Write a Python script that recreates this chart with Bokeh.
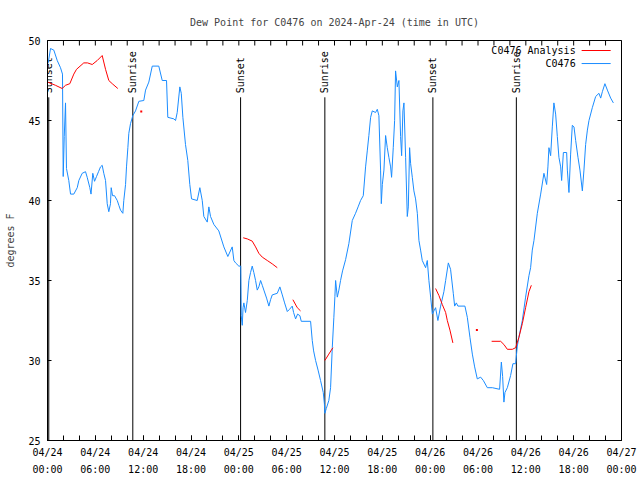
import numpy as np
from bokeh.plotting import figure
from bokeh.models import FixedTicker, Range1d
from bokeh.core.properties import value
from bokeh.embed import file_html
from bokeh.resources import INLINE

FONT = "DejaVu Sans Mono"
BLUE = "#1a8cff"
RED = "#ff0000"

# ---- data (hours since 2024-04-24 00:00 UTC) ----
blue_t = [0.09, 0.38, 0.79, 1.22, 1.63, 1.88, 1.97, 2.10, 2.26, 2.38, 2.67, 2.89, 3.30, 3.73, 3.93,
          4.35, 4.77, 4.98, 5.31, 5.46, 5.68, 5.90, 6.15, 6.40, 6.65, 6.86, 7.06, 7.28, 7.49, 7.69,
          7.90, 7.99, 8.16, 8.41, 8.75, 8.95, 9.16, 9.45, 9.57, 9.79, 9.91, 10.08, 10.20, 10.41, 10.70,
          11.04, 11.46, 12.08, 12.30, 12.71, 13.14, 13.96, 14.39, 14.93, 15.09, 15.85, 16.06, 16.27,
          16.60, 16.78, 16.98, 17.31, 17.60, 17.85, 18.07, 18.78, 19.11, 19.41, 19.61, 20.04, 20.24,
          20.45, 20.87, 21.49, 22.12, 22.62, 23.17, 23.38, 23.59, 24.00, 24.24, 24.30, 24.43, 24.53,
          24.63, 24.84, 25.06, 25.26, 25.47, 25.68, 25.88, 26.10, 26.31, 26.51, 26.73, 26.94, 27.14,
          27.48, 27.77, 27.98, 28.19, 28.82, 29.15, 29.45, 29.74, 30.08, 30.36, 30.70, 30.87, 31.12,
          31.37, 31.66, 31.83, 33.00, 33.21, 33.38, 33.63, 33.94, 34.25, 34.59, 34.73, 34.79, 34.97,
          35.29, 35.51, 35.72, 35.92, 36.05, 36.14, 36.35, 36.55, 36.76, 37.01, 37.39, 37.80, 38.23,
          38.64, 38.96, 39.27, 39.61, 39.90, 40.11, 40.31, 40.53, 40.74, 41.15, 41.37, 41.57, 41.78,
          41.87, 42.00, 42.20, 42.41, 42.62, 42.82, 43.04, 43.16, 43.37, 43.54, 43.66, 43.88, 44.08,
          44.29, 44.42, 44.58, 44.71, 44.92, 45.13, 45.26, 45.42, 45.55, 45.76, 45.96, 46.17, 46.39,
          46.59, 46.80, 47.01, 47.43, 47.64, 47.84, 48.06, 48.27, 48.47, 48.68, 48.97, 49.31, 49.72,
          49.94, 50.28, 50.56, 50.90, 51.07, 51.28, 51.48, 52.36, 52.66, 52.99, 53.29, 53.58, 53.91,
          54.33, 54.67, 55.17, 55.80, 56.71, 56.93, 57.09, 57.25, 57.38, 57.68, 58.09, 58.38, 58.72,
          58.93, 59.13, 59.56, 59.97, 60.39, 60.60, 60.81, 61.02, 61.44, 61.86, 62.27, 62.61, 62.77,
          62.90, 63.11, 63.32, 63.52, 63.74, 63.95, 64.15, 64.37, 64.49, 64.71, 65.12, 65.21, 65.41,
          65.62, 65.83, 66.04, 66.25, 66.54, 66.79, 67.09, 67.29, 67.50, 67.72, 67.92, 68.34, 68.76,
          69.17, 69.39, 69.60, 69.92, 70.23, 70.64, 70.98]
blue_v = [48.6, 49.5, 49.4, 48.75, 48.3, 47.9, 41.5, 44.0, 46.1, 42.0, 41.25, 40.4, 40.4, 40.8, 41.25,
          41.7, 41.8, 41.45, 40.8, 40.4, 41.7, 41.2, 41.5, 41.8, 42.1, 42.2, 41.7, 41.25, 39.8, 39.3,
          39.8, 40.8, 40.3, 40.3, 40.0, 39.7, 39.4, 39.2, 40.0, 41.0, 42.1, 43.3, 44.2, 44.8, 45.3,
          45.6, 46.2, 46.25, 46.9, 47.4, 48.4, 48.4, 47.5, 47.5, 45.2, 45.1, 45.0, 45.5,
          47.1, 46.7, 45.2, 43.5, 42.5, 41.0, 40.1, 40.0, 40.8, 40.0, 39.0, 38.65, 39.6,
          39.0, 38.5, 38.1, 37.1, 36.5, 37.1, 36.25, 36.1, 35.9, 35.9, 32.8, 32.2, 33.3,
          33.6, 33.0, 33.75, 35.0, 35.5, 35.9, 35.5, 35.0, 34.4, 34.6, 35.0, 34.7, 34.4,
          33.9, 33.4, 33.8, 34.1, 34.2, 34.6, 34.1, 33.6, 33.06, 33.2, 33.4, 33.0, 32.6,
          32.9, 32.8, 32.45, 32.45, 31.25, 30.6, 30.0, 29.4, 28.75, 28.0, 27.3, 26.7, 27.0,
          27.5, 28.3, 30.8, 32.7, 34.0, 35.0, 33.96, 34.4, 35.0, 35.6, 36.3, 37.3, 38.75,
          39.2, 39.6, 40.0, 40.3, 42.1, 43.1, 44.06, 45.2, 45.6, 45.5, 45.7, 45.3, 41.9,
          39.8, 41.0, 41.9, 44.06, 43.3, 42.7, 42.1, 41.45, 43.3, 45.0, 48.1, 47.1, 47.5,
          44.0, 42.8, 45.6, 46.1, 42.7, 39.0, 39.6, 43.3, 42.3, 41.45, 40.6, 40.1, 39.2,
          37.5, 36.9, 36.25, 35.8, 36.25, 35.0, 33.96, 32.9, 33.1, 33.3, 32.5, 33.4, 34.3,
          35.0, 36.1, 35.7, 34.2, 33.4, 33.6, 33.4, 33.4, 32.7, 31.45, 30.4, 29.6, 28.85,
          28.96, 28.75, 28.3, 28.3, 28.2, 29.9, 29.0, 27.4, 28.0, 28.3, 29.06, 29.8, 29.8,
          30.9, 31.45, 32.5, 33.96, 35.3, 35.8, 36.9, 37.5, 39.2, 40.4, 41.7, 41.0, 42.1,
          43.3, 42.8, 44.6, 46.1, 45.4, 44.0, 42.7, 42.1, 41.25, 43.0, 43.0, 41.9, 40.5,
          42.9, 44.7, 44.6, 43.75, 42.7, 41.9, 40.6, 41.9, 43.5, 44.4, 45.0, 45.8, 46.5,
          46.7, 46.4, 46.8, 47.3, 46.9, 46.4, 46.1]

nan = float("nan")
red_t = [0.04, 1.00, 1.84, 2.26, 2.80, 3.30, 3.64, 4.55, 5.02, 5.61, 6.24, 6.86, 7.28, 7.69, 8.12, 8.82,
         nan, 11.76, nan,
         24.55, 25.06, 25.68, 26.10, 26.51, 26.94, 27.57, 28.19, 28.82, nan,
         30.78, 31.33, 31.74, nan,
         34.79, 35.29, 35.80, nan,
         48.68, 49.10, 49.52, 49.94, 50.15, 50.48, 50.85, nan,
         53.86, nan,
         55.71, 56.84, 57.25, 57.68, 58.31, 58.72, 59.13, 59.56, 59.97, 60.39, 60.69]
red_v = [47.4, 47.2, 47.0, 47.2, 47.3, 47.9, 48.2, 48.6, 48.6, 48.5, 48.75, 49.06, 48.2, 47.5, 47.3, 47.0,
         nan, 45.56, nan,
         37.67, 37.6, 37.46, 37.1, 36.7, 36.46, 36.25, 36.04, 35.8, nan,
         33.8, 33.3, 33.1, nan,
         30.0, 30.4, 30.8, nan,
         34.5, 34.06, 33.5, 33.0, 32.5, 31.9, 31.1, nan,
         31.9, nan,
         31.2, 31.2, 31.0, 30.7, 30.7, 30.8, 31.45, 32.3, 33.3, 34.3, 34.7]

sun_t = [0.16, 10.70, 24.22, 34.79, 48.34, 58.81]
sun_labels = ["Sunset", "Sunrise", "Sunset", "Sunrise", "Sunset", "Sunrise"]

x_ticks = list(range(0, 73, 6))
x_tick_labels = ["04/24\n00:00", "04/24\n06:00", "04/24\n12:00", "04/24\n18:00",
                 "04/25\n00:00", "04/25\n06:00", "04/25\n12:00", "04/25\n18:00",
                 "04/26\n00:00", "04/26\n06:00", "04/26\n12:00", "04/26\n18:00",
                 "04/27\n00:00"]
x_minor = list(range(0, 73, 2))
y_ticks = [25, 30, 35, 40, 45, 50]

series_names = ["C0476 Analysis", "C0476"]

# ---- style constants ----
X_MIN, X_MAX, Y_MIN, Y_MAX = 0, 72, 25, 50
LINE_TOP = 46.45
LABEL_Y = 46.7
LEG_TEXT_X = 66.25
LEG_LINE_X0, LEG_LINE_X1 = 67.0, 70.64
LEG_Y = [49.375, 48.56]

p = figure(width=640, height=480, output_backend="svg", toolbar_location=None,
           x_range=Range1d(X_MIN, X_MAX), y_range=Range1d(Y_MIN, Y_MAX),
           min_border_left=47, min_border_right=19, min_border_top=40, min_border_bottom=40,
           background_fill_color="white", border_fill_color="white",
           outline_line_color="black", outline_line_width=1,
           title="Dew Point for C0476 on 2024-Apr-24 (time in UTC)")
p.grid.visible = False

p.title.align = "center"
p.title.text_font = FONT
p.title.text_font_size = "10px"
p.title.text_font_style = "normal"
p.title.standoff = 26

xt = FixedTicker(ticks=x_ticks, minor_ticks=x_minor)
yt = FixedTicker(ticks=y_ticks, minor_ticks=[])

xa = p.xaxis[0]
xa.ticker = xt
xa.major_label_overrides = {t: l for t, l in zip(x_ticks, x_tick_labels)}
ya = p.yaxis[0]
ya.ticker = yt
ya.axis_label = "degrees F"

for ax in (xa, ya):
    ax.major_tick_in = 5
    ax.major_tick_out = 0
    ax.minor_tick_in = 5
    ax.minor_tick_out = 0
    ax.axis_line_color = "black"
    ax.major_label_text_font = FONT
    ax.major_label_text_font_size = "10px"
    ax.major_label_text_color = "black"
    ax.axis_label_text_font = FONT
    ax.axis_label_text_font_size = "10px"
    ax.axis_label_text_font_style = "normal"
xa.major_label_standoff = 6
xa.major_label_text_line_height = 1.6
ya.major_label_standoff = 7
ya.axis_label_standoff = 9
ya.major_tick_in = 4

# mirrored inward ticks on top and right edges (clipped to the frame)
top_ticks = sorted(set(x_minor) | set(x_ticks))
p.scatter(x=top_ticks, y=[Y_MAX] * len(top_ticks), marker="dash", size=10, angle=np.pi / 2,
          line_color="black", line_width=1)
p.scatter(x=[X_MAX] * len(y_ticks), y=y_ticks, marker="dash", size=8,
          line_color="black", line_width=1)

# sunrise / sunset markers
p.segment(x0=sun_t, y0=[Y_MIN] * len(sun_t), x1=sun_t, y1=[LINE_TOP] * len(sun_t),
          line_color="black", line_width=1)
p.text(x=sun_t, y=[LABEL_Y] * len(sun_t), text=sun_labels, angle=np.pi / 2,
       text_align="left", text_baseline="middle", text_font=value(FONT),
       text_font_size="10px", text_color="black")

# data
p.line(blue_t, blue_v, line_color=BLUE, line_width=1)
p.line(red_t, red_v, line_color=RED, line_width=1)
iso_t, iso_v = [], []
for i in range(len(red_t)):
    if np.isnan(red_t[i]):
        continue
    prev_nan = i == 0 or np.isnan(red_t[i - 1])
    next_nan = i == len(red_t) - 1 or np.isnan(red_t[i + 1])
    if prev_nan and next_nan:
        iso_t.append(red_t[i]); iso_v.append(red_v[i])
p.scatter(iso_t, iso_v, marker="square", size=2, fill_color=RED, line_color=None)

# legend (label then line, right aligned)
p.text(x=[LEG_TEXT_X] * 2, y=LEG_Y, text=series_names, text_align="right",
       text_baseline="middle", text_font=value(FONT), text_font_size="10px", text_color="black")
p.segment(x0=[LEG_LINE_X0] * 2, y0=LEG_Y, x1=[LEG_LINE_X1] * 2, y1=LEG_Y,
          line_color=[RED, BLUE], line_width=1)

open("out.html", "w").write(file_html(p, INLINE))
